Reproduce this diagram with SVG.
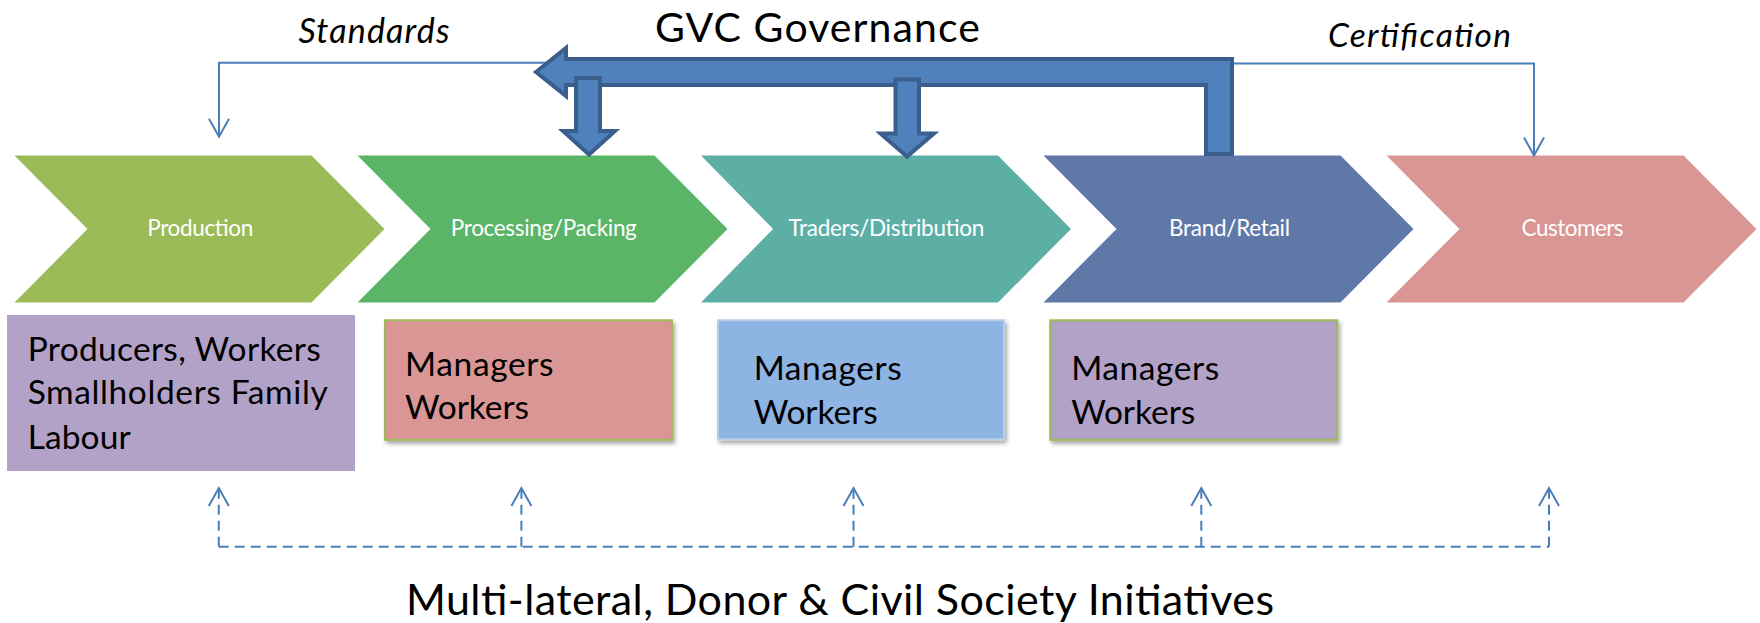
<svg xmlns="http://www.w3.org/2000/svg" width="1760" height="623" viewBox="0 0 1760 623">
  <style>
    text { font-family: Lato, "Liberation Sans", sans-serif; }
    .stage { font-size: 22.5px; fill: #ffffff; }
    .role { font-size: 33.5px; fill: #000000; }
    .title { font-size: 41px; fill: #000000; }
    .note { font-size: 34px; font-style: italic; fill: #000000; }
    .thin { fill: none; stroke: #4A7EBB; stroke-width: 2; }
    .dash { fill: none; stroke: #4A7EBB; stroke-width: 2; stroke-dasharray: 10 6; }
    .block { fill: #4F81BD; stroke: #3A5F8C; stroke-width: 4; stroke-linejoin: miter; }
  </style>
  <defs>
    <marker id="openHead" markerUnits="userSpaceOnUse" orient="auto" markerWidth="40" markerHeight="40" refX="0" refY="0" overflow="visible">
      <path d="M -18 -10 L 0 0 L -18 10" fill="none" stroke="#4A7EBB" stroke-width="2" stroke-dasharray="none"/>
    </marker>
    <filter id="shadow" x="-10%" y="-10%" width="125%" height="135%">
      <feDropShadow dx="2" dy="3" stdDeviation="2" flood-color="#000000" flood-opacity="0.35"/>
    </filter>
  </defs>

  <rect width="1760" height="623" fill="#ffffff"/>

  <!-- value chain stages -->
  <g id="production">
    <polygon points="14.5,155.5 311.5,155.5 384.5,229 311.5,302.5 14.5,302.5 87.5,229" fill="#9BBB59"/>
    <text class="stage" x="147.3" y="236" textLength="106">Production</text>
  </g>
  <g id="processing">
    <polygon points="357.5,155.5 654.5,155.5 727.5,229 654.5,302.5 357.5,302.5 430.5,229" fill="#5BB567"/>
    <text class="stage" x="450.8" y="236" textLength="186">Processing/Packing</text>
  </g>
  <g id="traders">
    <polygon points="701,155.5 998,155.5 1071,229 998,302.5 701,302.5 773,229" fill="#5DAFA6"/>
    <text class="stage" x="788.4" y="236" textLength="196">Traders/Distribution</text>
  </g>
  <g id="brand">
    <polygon points="1043.5,155.5 1340.5,155.5 1413.5,229 1340.5,302.5 1043.5,302.5 1116.5,229" fill="#6078A8"/>
    <text class="stage" x="1169" y="236" textLength="121">Brand/Retail</text>
  </g>
  <g id="customers">
    <polygon points="1386.5,155.5 1683.5,155.5 1756.5,229 1683.5,302.5 1386.5,302.5 1459.5,229" fill="#D99694"/>
    <text class="stage" x="1521.6" y="236" textLength="102">Customers</text>
  </g>

  <!-- actors at each stage -->
  <g id="producers-box">
    <rect x="7" y="315" width="348" height="156" fill="#B3A2C7"/>
    <text class="role" x="27.7" y="360.7" textLength="293">Producers, Workers</text>
    <text class="role" x="27.7" y="404" textLength="300">Smallholders Family</text>
    <text class="role" x="27.7" y="449" textLength="103">Labour</text>
  </g>
  <g id="processing-box">
    <rect x="385" y="320.3" width="287" height="119.5" fill="#D99694" stroke="#9BBB59" stroke-width="2" filter="url(#shadow)"/>
    <text class="role" x="405" y="376" textLength="148.6">Managers</text>
    <text class="role" x="405" y="419.3" textLength="124">Workers</text>
  </g>
  <g id="traders-box">
    <rect x="718" y="320.3" width="286" height="119" fill="#8EB4E3" stroke="#B9CDE5" stroke-width="2" filter="url(#shadow)"/>
    <text class="role" x="753.7" y="380" textLength="148">Managers</text>
    <text class="role" x="753.7" y="424" textLength="124">Workers</text>
  </g>
  <g id="brand-box">
    <rect x="1050.3" y="320.3" width="287" height="119.5" fill="#B3A2C7" stroke="#9BBB59" stroke-width="2" filter="url(#shadow)"/>
    <text class="role" x="1071.2" y="380" textLength="148">Managers</text>
    <text class="role" x="1071.2" y="424" textLength="124">Workers</text>
  </g>

  <!-- labels -->
  <g id="labels">
    <text class="title" x="655" y="41.7" textLength="325">GVC Governance</text>
    <text class="note" x="298.5" y="42.7" textLength="151">Standards</text>
    <text class="note" x="1328" y="46.7" textLength="183" style="font-size:33.5px">Certification</text>
    <text class="title" x="406" y="615" textLength="868" style="font-size:43px">Multi-lateral, Donor &amp; Civil Society Initiatives</text>
  </g>

  <!-- connectors -->
  <g id="connectors">
    <!-- standards and certification links -->
    <path class="thin" d="M 560 62.7 H 219 V 136.7" marker-end="url(#openHead)"/>
    <path class="thin" d="M 1230 63.5 H 1534 V 155.5" marker-end="url(#openHead)"/>

    <!-- governance block arrows -->
    <polygon class="block" points="536,72 566,48 566,59 1232,59 1232,154 1206,154 1206,85 566,85 566,96"/>
    <polygon class="block" points="576,78 600,78 600,131 615,131 589,154.6 563,131 576,131"/>
    <polygon class="block" points="895.5,79.5 919,79.5 919,133.5 934,133.5 907,156.6 880.5,133.5 895.5,133.5"/>

    <!-- initiative links -->
    <path class="dash" d="M 218.8 546.7 H 1549"/>
    <path class="dash" d="M 218.8 546.7 V 488" marker-end="url(#openHead)"/>
    <path class="dash" d="M 521.4 546.7 V 488" marker-end="url(#openHead)"/>
    <path class="dash" d="M 853.5 546.7 V 488" marker-end="url(#openHead)"/>
    <path class="dash" d="M 1201.3 546.7 V 488" marker-end="url(#openHead)"/>
    <path class="dash" d="M 1549 546.7 V 488" marker-end="url(#openHead)"/>
  </g>
</svg>
